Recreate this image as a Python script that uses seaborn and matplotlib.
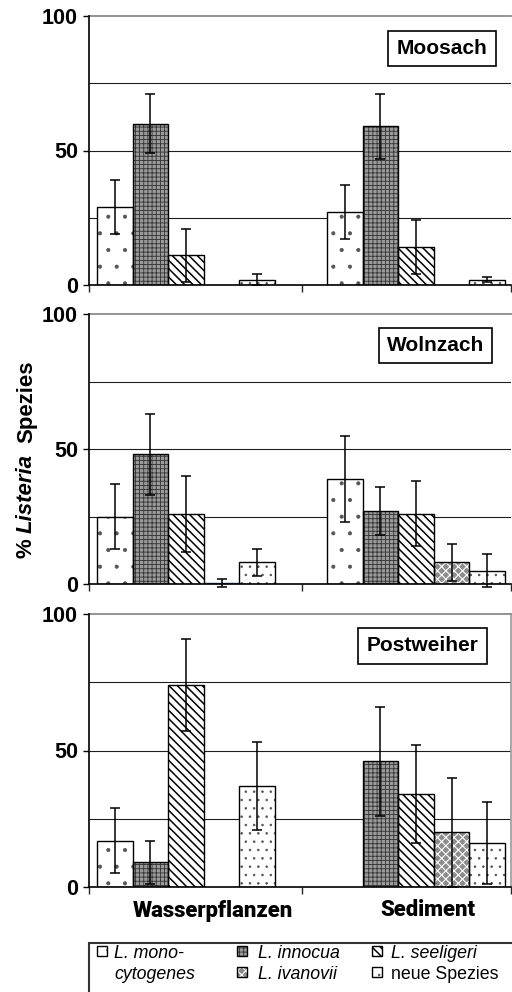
import numpy as np
import pandas as pd
import matplotlib
matplotlib.use("Agg")
import matplotlib.pyplot as plt
from matplotlib.patches import Rectangle
import seaborn as sns

# ---- data -------------------------------------------------------------
sites = ["Moosach", "Wolnzach", "Postweiher"]
sources = ["Wasserpflanzen", "Sediment"]
species = ["L. monocytogenes", "L. innocua", "L. seeligeri", "L. ivanovii", "neue Spezies"]

# share of isolates (%) per species, one list per site and source
moosach_wasser = [29, 60, 11, 0, 2]
moosach_sediment = [27, 59, 14, 0, 2]
wolnzach_wasser = [25, 48, 26, 0.5, 8]
wolnzach_sediment = [39, 27, 26, 8, 5]
postweiher_wasser = [17, 9, 74, 0, 37]
postweiher_sediment = [0, 46, 34, 20, 16]

# standard deviations
moosach_wasser_sd = [10, 11, 10, 0, 2]
moosach_sediment_sd = [10, 12, 10, 0, 1]
wolnzach_wasser_sd = [12, 15, 14, 1.5, 5]
wolnzach_sediment_sd = [16, 9, 12, 7, 6]
postweiher_wasser_sd = [12, 8, 17, 0, 16]
postweiher_sediment_sd = [0, 20, 18, 20, 15]

y_ticks = [0, 50, 100]
grid_levels = [25, 50, 75]

values = {
    ("Moosach", "Wasserpflanzen"): (moosach_wasser, moosach_wasser_sd),
    ("Moosach", "Sediment"): (moosach_sediment, moosach_sediment_sd),
    ("Wolnzach", "Wasserpflanzen"): (wolnzach_wasser, wolnzach_wasser_sd),
    ("Wolnzach", "Sediment"): (wolnzach_sediment, wolnzach_sediment_sd),
    ("Postweiher", "Wasserpflanzen"): (postweiher_wasser, postweiher_wasser_sd),
    ("Postweiher", "Sediment"): (postweiher_sediment, postweiher_sediment_sd),
}
rows = []
for (site, src), (vals, sds) in values.items():
    for sp, v, s in zip(species, vals, sds):
        rows.append({"Gewaesser": site, "Probe": src, "Art": sp, "Anteil": v, "SD": s})
df = pd.DataFrame(rows)

# ---- styles -----------------------------------------------------------
face = {
    "L. monocytogenes": "white",
    "L. innocua": "#9a9a9a",
    "L. seeligeri": "white",
    "L. ivanovii": "#8c8c8c",
    "neue Spezies": "white",
}
hatches = {
    "L. monocytogenes": ".",
    "L. innocua": "++++",
    "L. seeligeri": "\\\\\\\\",
    "L. ivanovii": "xxxx",
    "neue Spezies": "..",
}
hatch_lw = {
    "L. monocytogenes": 0.5,
    "L. innocua": 0.6,
    "L. seeligeri": 1.1,
    "L. ivanovii": 0.8,
    "neue Spezies": 0.6,
}
hatch_color = {
    "L. monocytogenes": "#555555",
    "L. innocua": "#333333",
    "L. seeligeri": "black",
    "L. ivanovii": "white",
    "neue Spezies": "#555555",
}
special_face = {("Wolnzach", "Wasserpflanzen", "L. ivanovii"): "#1d3b86"}

sns.set_style("white")
plt.rcParams["font.family"] = ["Liberation Sans", "DejaVu Sans"]
plt.rcParams["hatch.linewidth"] = 1.0

W, H = 512, 992
fig = plt.figure(figsize=(W / 100, H / 100), dpi=100)

left_px, right_px = 89, 511
panels_px = [(16, 285), (314, 584), (614, 887)]
bar_group_width = 0.774
xlim = (-0.4217, 1.413)
bounds = [xlim[0], 0.504, xlim[1]]
box_pos = [(0.836, 0.879), (0.821, 0.883), (0.790, 0.883)]


def style_patch(p, sp, fc, transform=None):
    """Fill + hatch drawn in the hatch colour; returns a black outline to lay on top."""
    p.set_facecolor(fc)
    p.set_hatch(hatches[sp])
    if hasattr(p, "set_hatch_linewidth"):
        p.set_hatch_linewidth(hatch_lw[sp])
    p.set_edgecolor(hatch_color[sp])
    p.set_linewidth(0)
    kw = dict(fill=False, edgecolor="black", linewidth=1.0, zorder=p.get_zorder() + 0.1)
    if transform is not None:
        kw["transform"] = transform
    return Rectangle((p.get_x(), p.get_y()), p.get_width(), p.get_height(), **kw)


axes = []
for i, site in enumerate(sites):
    top, bot = panels_px[i]
    ax = fig.add_axes([left_px / W, 1 - bot / H, (right_px - left_px) / W, (bot - top) / H])
    axes.append(ax)
    sub = df[df["Gewaesser"] == site]
    sns.barplot(data=sub, x="Probe", y="Anteil", hue="Art", order=sources,
                hue_order=species, palette=face, width=bar_group_width,
                errorbar=None, legend=False, edgecolor="black", linewidth=1.0,
                ax=ax)
    bars = list(ax.patches)
    step = bar_group_width / len(species)
    xs, ys, es = [], [], []
    for p in bars:
        xc = p.get_x() + p.get_width() / 2
        ci = int(round(xc))
        hi = int(round((xc - ci) / step + (len(species) - 1) / 2))
        sp = species[hi]
        src = sources[ci]
        row = sub[(sub["Probe"] == src) & (sub["Art"] == sp)].iloc[0]
        p.set_zorder(2)
        if (site, src, sp) in special_face:
            fc = special_face[(site, src, sp)]
            p.set_facecolor(fc)
            p.set_edgecolor(fc)
            p.set_hatch(None)
        elif p.get_height() > 0:
            ax.add_patch(style_patch(p, sp, face[sp]))
        else:
            p.set_visible(False)
        if row["SD"] > 0:
            xs.append(xc)
            ys.append(row["Anteil"])
            es.append(row["SD"])
    eb = ax.errorbar(xs, ys, yerr=es, fmt="none", ecolor="black", elinewidth=1.1,
                     capsize=3.5, capthick=1.1, zorder=3)
    for art in eb.lines[1] + eb.lines[2]:
        art.set_clip_on(False)

    for g in grid_levels:
        ax.axhline(g, color="#1e1e1e", linewidth=0.8, zorder=0.5)

    ax.set_xlim(*xlim)
    ax.set_ylim(0, 100)
    ax.set_yticks(y_ticks)
    ax.set_yticklabels([str(t) for t in y_ticks], fontsize=15.5, fontweight="bold")
    ax.tick_params(axis="y", direction="out", length=4, width=1, pad=4, left=True,
                   colors="black")
    ax.set_xticks(bounds, minor=True)
    ax.tick_params(axis="x", which="minor", direction="out", length=5, width=1, bottom=True)
    ax.set_ylabel("")
    ax.set_xlabel("")
    if i == len(sites) - 1:
        ax.set_xticks([0.117, 1.052])
        ax.set_xticklabels(sources)
        ax.tick_params(axis="x", which="major", length=0, pad=9)
        for lbl in ax.get_xticklabels():
            lbl.set_family(["Roboto", "Liberation Sans"])
            lbl.set_fontsize(15.8)
            lbl.set_fontweight("black")
            lbl.set_color("black")
    else:
        ax.set_xticks([])

    for s in ["left", "bottom"]:
        ax.spines[s].set_color("black")
        ax.spines[s].set_linewidth(1.2)
    ax.spines["top"].set_color("#8a8a8a")
    ax.spines["top"].set_linewidth(1.3)
    if i == len(sites) - 1:
        ax.spines["right"].set_color("#9a9a9a")
        ax.spines["right"].set_linewidth(1.2)
    else:
        ax.spines["right"].set_visible(False)
    ax.spines["left"].set_zorder(4)
    ax.spines["bottom"].set_zorder(4)

    bx, by = box_pos[i]
    ax.text(bx, by, site, transform=ax.transAxes, ha="center", va="center",
            fontsize=15, fontweight="bold", color="black", zorder=5,
            bbox=dict(boxstyle="square,pad=0.4", facecolor="white",
                      edgecolor="black", linewidth=1.2))

# ---- y-axis title with italic genus name -----------------------------
renderer = fig.canvas.get_renderer()
pieces = [("%", "normal", 0), ("Listeria", "italic", 5), ("Spezies", "normal", 11)]
yb = 558
xb = 32
for text, style, gap in pieces:
    yb -= gap
    t = fig.text(xb / W, 1 - yb / H, text, rotation=90, rotation_mode="anchor",
                 ha="left", va="baseline", fontsize=16, fontweight="bold",
                 fontstyle=style, color="black")
    bb = t.get_window_extent(renderer)
    yb -= bb.height

# ---- legend -----------------------------------------------------------
fig.add_artist(Rectangle((left_px / W, 1 - 1000 / H), (520 - left_px) / W, (1000 - 943) / H,
                         transform=fig.transFigure, fill=False, edgecolor="#333333",
                         linewidth=1.5, clip_on=False))
legend_items = [
    ("L. monocytogenes", ["L. mono-", "cytogenes"], 97, 114, 0),
    ("L. innocua", ["L. innocua"], 237, 258, 0),
    ("L. ivanovii", ["L. ivanovii"], 237, 258, 1),
    ("L. seeligeri", ["L. seeligeri"], 372, 391, 0),
    ("neue Spezies", ["neue Spezies"], 372, 391, 1),
]
row_base = [958, 979]
row_top = [946, 967]
for sp, lines, mx, tx, r in legend_items:
    m = Rectangle((mx / W, 1 - (row_top[r] + 9.5) / H), 9.5 / W, 9.5 / H,
                  transform=fig.transFigure)
    outline = style_patch(m, sp, face[sp], transform=fig.transFigure)
    fig.add_artist(m)
    fig.add_artist(outline)
    style = "normal" if sp == "neue Spezies" else "italic"
    for k, line in enumerate(lines):
        fig.text(tx / W, 1 - row_base[r + k] / H, line, ha="left", va="baseline",
                 fontsize=12.8, fontstyle=style, color="black")

fig.savefig("out.png", dpi=100)
